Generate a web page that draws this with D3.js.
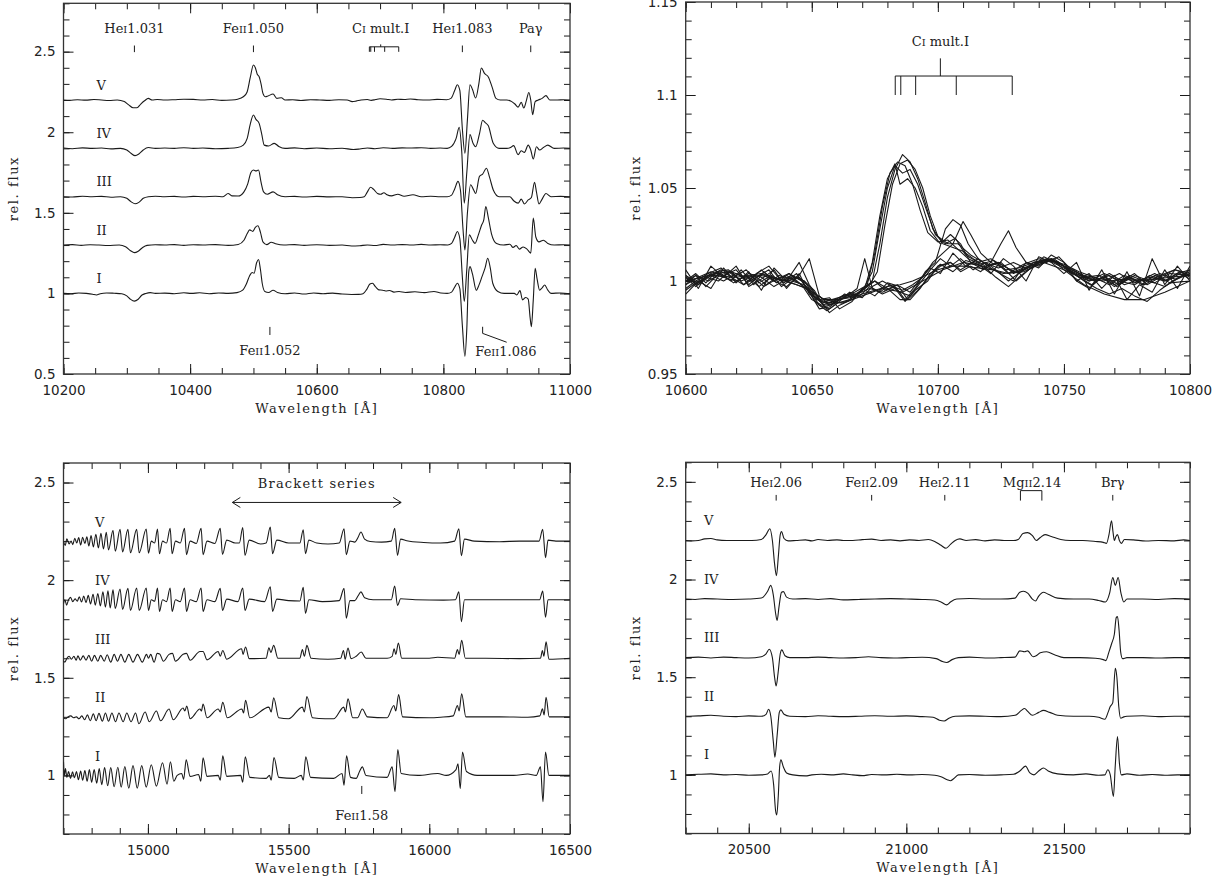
<!DOCTYPE html>
<html>
<head>
<meta charset="utf-8">
<script src="https://cdn.jsdelivr.net/npm/d3@7"></script>
<style>
  body { margin: 0; background: #fff; }
  svg { display: block; }
</style>
</head>
<body>
<svg id="fig" width="1232" height="883"></svg>
<script>
// ---- data: epochs and their display offsets
const epochs = ["I", "II", "III", "IV", "V"];
const epochOffsets = [0, 0.3, 0.6, 0.9, 1.2];

// ---- J band, 10200-11000 A  (relative flux, before offset)
const jI = [[10200,1.0],[10212,0.998],[10224,1.003],[10236,1.0],[10246,0.995],[10252,0.99],[10258,0.998],[10268,1.003],[10280,1.001],[10292,0.998],[10300,0.985],[10306,0.963],[10312,0.952],[10318,0.964],[10324,0.99],[10330,1.0],[10337,1.005],[10345,1.0],[10360,1.002],[10375,0.998],[10390,1.004],[10402,1.0],[10415,1.004],[10430,0.998],[10445,1.003],[10460,1.0],[10474,1.005],[10483,1.02],[10489,1.06],[10494,1.11],[10498,1.13],[10501,1.125],[10505,1.19],[10508,1.21],[10511,1.15],[10514,1.06],[10518,1.012],[10524,1.006],[10531,1.02],[10538,1.006],[10550,0.998],[10565,1.003],[10580,0.996],[10595,1.003],[10610,0.998],[10625,1.002],[10640,0.996],[10655,0.993],[10666,0.994],[10673,0.998],[10679,1.025],[10684,1.058],[10688,1.063],[10693,1.04],[10698,1.022],[10704,1.02],[10709,1.015],[10715,1.018],[10722,1.008],[10730,1.012],[10740,1.006],[10755,1.01],[10770,1.005],[10785,1.012],[10796,1.003],[10806,1.0],[10813,1.008],[10818,1.04],[10822,1.063],[10826,1.03],[10830,0.8],[10834,0.61],[10837,0.78],[10840,1.13],[10842,1.166],[10846,1.12],[10852,1.02],[10856,1.05],[10861,1.104],[10866,1.16],[10870,1.218],[10874,1.16],[10878,1.063],[10886,1.012],[10896,1.0],[10905,1.0],[10912,1.0],[10916,0.99],[10921,1.017],[10925,0.96],[10930,0.975],[10934,0.965],[10937,0.85],[10939,0.794],[10942,0.96],[10945,1.156],[10948,1.09],[10952,1.02],[10956,1.035],[10960,1.052],[10965,1.02],[10970,1.0],[10985,1.003],[11000,0.998]];
const jII = [[10200,1.0],[10214,1.003],[10228,0.998],[10242,1.002],[10256,1.0],[10270,0.997],[10288,1.0],[10298,0.99],[10306,0.965],[10312,0.953],[10318,0.962],[10325,0.985],[10332,0.998],[10345,1.002],[10360,1.0],[10375,1.003],[10390,0.998],[10405,1.002],[10420,1.0],[10440,1.003],[10460,0.998],[10476,1.004],[10485,1.03],[10490,1.07],[10494,1.094],[10499,1.085],[10503,1.11],[10507,1.12],[10511,1.08],[10515,1.02],[10521,1.003],[10528,1.017],[10535,1.008],[10548,1.0],[10565,1.003],[10580,0.998],[10600,1.002],[10620,0.998],[10640,1.0],[10655,0.994],[10668,0.996],[10680,1.0],[10692,0.997],[10705,1.004],[10720,1.0],[10735,1.003],[10750,1.0],[10765,1.004],[10780,1.0],[10795,1.002],[10807,1.0],[10813,1.01],[10818,1.05],[10822,1.084],[10826,1.04],[10830,0.8],[10833,0.65],[10837,0.85],[10841,1.063],[10846,1.03],[10850,1.01],[10855,1.06],[10860,1.12],[10864,1.16],[10867,1.239],[10871,1.17],[10876,1.07],[10884,1.01],[10895,1.0],[10905,1.005],[10910,0.985],[10915,0.997],[10920,0.975],[10926,0.988],[10932,0.975],[10938,0.95],[10942,1.167],[10946,1.05],[10951,1.02],[10958,1.03],[10965,1.01],[10975,1.0],[10990,1.002],[11000,1.0]];
const jIII = [[10200,1.0],[10214,0.998],[10230,1.003],[10245,1.0],[10260,1.002],[10275,0.997],[10290,1.0],[10300,0.99],[10307,0.968],[10313,0.956],[10319,0.965],[10326,0.99],[10334,1.0],[10345,1.003],[10360,1.0],[10375,1.002],[10390,0.998],[10405,1.002],[10420,1.0],[10440,1.003],[10452,1.0],[10460,1.02],[10466,1.005],[10476,1.004],[10485,1.03],[10491,1.08],[10496,1.15],[10500,1.166],[10504,1.16],[10508,1.166],[10512,1.09],[10516,1.03],[10522,1.015],[10531,1.03],[10538,1.012],[10550,1.0],[10565,1.002],[10580,0.998],[10600,1.002],[10620,0.999],[10640,1.0],[10656,0.994],[10668,0.995],[10675,1.0],[10680,1.03],[10685,1.059],[10690,1.045],[10696,1.02],[10701,1.015],[10706,1.025],[10711,1.012],[10718,1.005],[10728,1.015],[10738,1.003],[10752,1.012],[10765,1.0],[10780,1.003],[10795,1.0],[10806,1.0],[10813,1.01],[10818,1.05],[10823,1.095],[10827,1.04],[10831,0.8],[10834,0.67],[10838,0.9],[10843,1.074],[10848,1.04],[10851,1.02],[10857,1.126],[10862,1.14],[10868,1.177],[10873,1.12],[10879,1.04],[10888,1.0],[10898,1.0],[10905,1.0],[10911,0.975],[10918,0.96],[10923,0.985],[10928,0.955],[10934,0.98],[10939,0.995],[10944,1.09],[10947,1.03],[10951,0.955],[10956,0.985],[10962,1.02],[10970,1.0],[10985,1.002],[11000,1.0]];
const jIV = [[10200,1.002],[10214,0.998],[10230,1.003],[10245,1.0],[10260,1.002],[10275,0.997],[10290,1.0],[10300,0.99],[10307,0.968],[10313,0.955],[10319,0.965],[10326,0.99],[10334,1.005],[10345,1.0],[10360,1.002],[10375,1.0],[10390,1.004],[10405,1.0],[10420,1.002],[10440,0.998],[10460,1.0],[10475,1.005],[10484,1.02],[10490,1.06],[10495,1.15],[10500,1.207],[10504,1.18],[10509,1.155],[10513,1.09],[10517,1.02],[10524,1.015],[10533,1.031],[10540,1.012],[10550,1.0],[10565,1.003],[10580,0.998],[10600,1.002],[10620,0.998],[10640,1.001],[10658,0.993],[10668,0.996],[10680,1.002],[10692,0.998],[10705,1.004],[10720,1.0],[10735,1.003],[10750,1.002],[10765,1.004],[10780,1.0],[10795,1.002],[10806,1.0],[10813,1.012],[10820,1.06],[10825,1.13],[10829,0.98],[10833,0.66],[10837,0.85],[10842,1.085],[10847,1.03],[10851,1.01],[10857,1.09],[10862,1.174],[10866,1.16],[10871,1.14],[10879,1.03],[10888,1.0],[10900,1.0],[10906,1.005],[10911,1.017],[10918,0.961],[10923,0.985],[10928,0.975],[10934,1.02],[10938,0.99],[10942,0.934],[10947,1.01],[10952,0.99],[10958,1.005],[10965,1.02],[10975,1.0],[10990,1.002],[11000,1.0]];
const jV = [[10200,1.0],[10210,0.998],[10222,1.002],[10235,0.999],[10248,1.003],[10260,1.0],[10272,0.997],[10285,1.0],[10296,0.99],[10303,0.97],[10310,0.952],[10316,0.952],[10322,0.975],[10328,0.995],[10334,1.01],[10340,1.0],[10348,1.003],[10360,1.0],[10375,1.002],[10390,1.005],[10405,1.004],[10420,1.0],[10435,1.003],[10450,0.998],[10465,1.0],[10475,1.005],[10484,1.02],[10490,1.05],[10495,1.14],[10500,1.217],[10503,1.2],[10506,1.16],[10509,1.144],[10512,1.1],[10515,1.041],[10519,1.02],[10523,1.025],[10531,1.037],[10537,1.01],[10544,1.014],[10550,1.0],[10562,1.002],[10575,0.997],[10590,1.002],[10605,1.0],[10620,0.998],[10635,1.002],[10648,1.0],[10656,0.99],[10662,0.993],[10670,1.0],[10680,1.003],[10686,0.998],[10693,1.003],[10700,1.008],[10710,1.005],[10718,1.0],[10728,1.005],[10738,1.003],[10748,1.006],[10760,1.002],[10775,1.0],[10790,1.004],[10805,1.002],[10812,1.01],[10818,1.06],[10822,1.095],[10826,1.06],[10830,0.82],[10834,0.67],[10838,0.88],[10842,1.095],[10846,1.065],[10851,1.012],[10856,1.1],[10860,1.199],[10865,1.165],[10871,1.143],[10877,1.08],[10883,1.01],[10890,1.0],[10900,1.0],[10908,0.99],[10913,0.975],[10918,0.956],[10923,0.985],[10927,0.95],[10931,0.995],[10935,1.047],[10938,1.0],[10941,0.909],[10945,0.99],[10950,1.0],[10956,1.01],[10962,1.027],[10968,1.0],[10980,1.0],[10990,1.002],[11000,1.0]];
const jSpectra = [jI, jII, jIII, jIV, jV];

// ---- C I multiplet close-up, 10600-10800 A (all epochs overplotted)
const ciEmitting = [
  [[10600,1.0],[10604,1.004],[10608,0.999],[10612,1.005],[10617,1.006],[10622,1.0],[10627,1.003],[10632,0.998],[10637,1.003],[10642,1.001],[10646,0.998],[10650,0.99],[10654,0.987],[10658,0.989],[10663,0.991],[10668,0.993],[10672,0.998],[10675,1.015],[10678,1.04],[10681,1.058],[10684,1.064],[10687,1.062],[10690,1.052],[10693,1.038],[10696,1.026],[10700,1.021],[10704,1.022],[10708,1.017],[10712,1.012],[10717,1.009],[10722,1.011],[10727,1.006],[10732,1.007],[10738,1.01],[10744,1.012],[10750,1.008],[10756,1.004],[10762,1.0],[10768,1.003],[10774,0.998],[10780,1.001],[10786,0.999],[10792,1.004],[10800,1.003]],
  [[10600,0.998],[10605,1.002],[10610,1.005],[10615,1.003],[10620,1.006],[10625,0.998],[10630,1.004],[10635,1.0],[10640,1.003],[10645,0.999],[10649,0.994],[10653,0.985],[10657,0.986],[10661,0.99],[10666,0.992],[10671,0.996],[10674,1.01],[10677,1.035],[10680,1.055],[10683,1.063],[10685,1.052],[10688,1.055],[10691,1.05],[10694,1.04],[10697,1.027],[10701,1.02],[10705,1.025],[10709,1.02],[10713,1.01],[10718,1.006],[10723,1.01],[10728,1.004],[10734,1.009],[10740,1.012],[10746,1.011],[10752,1.006],[10758,1.002],[10764,1.003],[10770,0.997],[10776,1.002],[10782,0.998],[10788,1.003],[10794,1.006],[10800,1.004]],
  [[10600,1.002],[10604,0.997],[10609,1.003],[10614,1.005],[10619,1.002],[10624,1.006],[10629,0.999],[10634,1.003],[10639,0.999],[10644,1.004],[10648,0.996],[10652,0.988],[10656,0.984],[10660,0.988],[10665,0.99],[10670,0.995],[10674,1.0],[10677,1.02],[10680,1.045],[10683,1.06],[10686,1.068],[10689,1.064],[10692,1.055],[10695,1.042],[10698,1.028],[10702,1.02],[10706,1.018],[10710,1.016],[10714,1.012],[10719,1.008],[10724,1.01],[10730,1.005],[10736,1.008],[10742,1.011],[10748,1.01],[10754,1.004],[10760,1.001],[10766,1.0],[10772,1.004],[10778,0.999],[10784,1.002],[10790,1.0],[10796,1.005],[10800,1.002]],
  [[10600,0.995],[10605,1.0],[10609,1.002],[10614,1.006],[10619,1.004],[10623,0.998],[10628,1.002],[10633,1.006],[10638,0.997],[10643,1.002],[10647,1.0],[10651,0.992],[10655,0.987],[10659,0.988],[10664,0.989],[10669,0.994],[10673,0.998],[10676,1.005],[10679,1.03],[10682,1.052],[10685,1.063],[10688,1.065],[10691,1.06],[10694,1.05],[10697,1.035],[10700,1.024],[10704,1.02],[10708,1.02],[10713,1.014],[10718,1.01],[10724,1.007],[10730,1.01],[10736,1.006],[10742,1.013],[10748,1.009],[10754,1.006],[10760,1.0],[10766,1.002],[10772,0.998],[10778,1.003],[10784,1.0],[10790,0.997],[10796,1.002],[10800,1.006]],
  [[10600,1.003],[10605,0.999],[10610,1.004],[10615,1.002],[10620,1.0],[10625,1.004],[10630,1.002],[10635,0.997],[10640,1.001],[10645,1.002],[10649,0.997],[10653,0.99],[10657,0.988],[10662,0.992],[10667,0.994],[10671,0.997],[10674,1.005],[10677,1.028],[10680,1.05],[10683,1.062],[10686,1.058],[10689,1.06],[10692,1.052],[10695,1.04],[10699,1.025],[10703,1.02],[10707,1.023],[10711,1.014],[10716,1.01],[10721,1.012],[10726,1.008],[10732,1.004],[10738,1.009],[10744,1.011],[10750,1.007],[10756,1.002],[10762,1.002],[10768,0.998],[10774,1.003],[10780,1.0],[10786,1.004],[10792,0.999],[10800,1.0]]
];
const ciQuiet = [
  [[10600,1.0],[10604,1.003],[10608,0.997],[10613,1.004],[10618,1.0],[10622,1.006],[10627,0.998],[10631,1.005],[10636,0.999],[10641,1.004],[10646,1.0],[10650,0.993],[10654,0.988],[10658,0.99],[10663,0.992],[10668,0.993],[10673,0.996],[10678,0.994],[10683,0.997],[10687,0.99],[10691,0.996],[10695,1.005],[10699,1.01],[10703,1.028],[10706,1.033],[10709,1.03],[10712,1.02],[10716,1.012],[10720,1.008],[10725,1.01],[10730,1.004],[10735,1.007],[10740,1.01],[10745,1.012],[10750,1.006],[10755,1.003],[10760,1.0],[10766,1.004],[10772,1.0],[10778,0.998],[10784,1.003],[10790,1.0],[10795,1.004],[10800,1.006]],
  [[10600,0.996],[10604,1.0],[10609,1.004],[10614,1.007],[10618,1.002],[10623,0.998],[10628,1.004],[10633,1.008],[10638,1.0],[10642,1.003],[10647,1.0],[10651,0.995],[10655,0.986],[10659,0.988],[10663,0.993],[10667,0.991],[10671,0.997],[10675,1.0],[10679,0.995],[10684,0.998],[10688,0.99],[10692,0.995],[10697,1.003],[10701,1.008],[10705,1.01],[10709,1.005],[10713,1.008],[10717,1.005],[10721,1.01],[10725,1.02],[10728,1.027],[10731,1.018],[10735,1.01],[10740,1.008],[10745,1.012],[10750,1.008],[10755,1.0],[10760,0.996],[10765,1.002],[10770,0.998],[10776,1.003],[10782,1.0],[10788,1.004],[10794,1.001],[10800,1.005]],
  [[10600,1.002],[10605,0.998],[10610,1.003],[10615,1.0],[10620,1.004],[10625,1.0],[10630,1.006],[10635,1.0],[10640,0.997],[10645,1.003],[10649,1.012],[10653,0.992],[10657,0.987],[10661,0.99],[10665,0.993],[10670,0.991],[10674,0.997],[10678,1.0],[10682,0.997],[10686,0.995],[10690,0.998],[10694,1.002],[10698,1.01],[10702,1.015],[10706,1.02],[10710,1.032],[10713,1.025],[10717,1.015],[10721,1.01],[10726,1.007],[10731,1.0],[10736,1.006],[10741,1.011],[10746,1.012],[10751,1.007],[10756,1.002],[10761,0.998],[10766,1.003],[10771,0.997],[10776,1.002],[10781,0.998],[10786,1.003],[10791,1.0],[10796,1.004],[10800,1.001]],
  [[10600,0.998],[10604,1.003],[10609,1.0],[10614,1.004],[10619,0.999],[10624,1.003],[10629,0.997],[10634,1.002],[10639,1.0],[10644,0.998],[10648,0.996],[10652,0.99],[10656,0.988],[10660,0.989],[10664,0.992],[10668,0.996],[10671,1.012],[10674,0.996],[10678,0.993],[10683,0.996],[10687,0.989],[10691,0.995],[10696,1.0],[10700,1.008],[10705,1.01],[10709,1.006],[10714,1.01],[10719,1.007],[10723,1.002],[10728,0.997],[10733,1.003],[10738,1.008],[10743,1.012],[10748,1.01],[10753,1.005],[10758,1.0],[10763,0.996],[10768,0.993],[10773,0.996],[10778,0.992],[10783,0.989],[10788,0.995],[10793,1.0],[10800,1.004]],
  [[10600,1.0],[10606,1.002],[10612,1.004],[10618,1.005],[10624,1.002],[10630,1.003],[10636,1.001],[10642,1.0],[10647,0.998],[10651,0.993],[10655,0.99],[10660,0.99],[10665,0.991],[10670,0.993],[10675,0.995],[10680,0.997],[10685,0.998],[10690,1.0],[10695,1.003],[10700,1.006],[10705,1.008],[10710,1.008],[10716,1.007],[10722,1.006],[10728,1.004],[10734,1.006],[10740,1.009],[10745,1.011],[10750,1.009],[10756,1.005],[10762,1.002],[10768,1.0],[10774,1.001],[10780,1.0],[10786,1.001],[10792,1.002],[10800,1.003]],
  [[10600,1.003],[10604,0.998],[10608,1.002],[10613,1.0],[10617,1.005],[10621,1.001],[10626,1.003],[10631,0.997],[10636,1.001],[10641,1.004],[10645,0.999],[10649,0.995],[10653,0.987],[10657,0.985],[10661,0.989],[10665,0.994],[10669,0.992],[10673,0.997],[10677,0.994],[10681,0.998],[10685,0.994],[10689,0.992],[10693,0.999],[10697,1.006],[10701,1.012],[10705,1.008],[10709,1.012],[10714,1.006],[10719,1.01],[10723,1.006],[10728,1.0],[10733,1.005],[10738,1.01],[10743,1.01],[10748,1.013],[10753,1.006],[10758,1.003],[10763,1.0],[10768,1.004],[10773,1.0],[10778,1.004],[10783,0.998],[10788,1.002],[10794,1.006],[10800,1.003]],
  [[10600,0.993],[10605,1.0],[10610,0.996],[10615,1.007],[10620,0.999],[10625,1.005],[10630,0.995],[10635,1.007],[10640,1.0],[10645,1.01],[10649,0.998],[10653,0.99],[10657,0.983],[10661,0.987],[10666,0.99],[10670,0.995],[10675,1.0],[10680,0.996],[10685,0.99],[10689,0.99],[10693,0.996],[10697,1.004],[10701,1.009],[10706,1.005],[10711,1.011],[10716,1.009],[10721,1.004],[10726,1.012],[10730,1.008],[10735,1.0],[10740,1.013],[10745,1.01],[10750,1.004],[10755,1.01],[10760,0.995],[10765,1.006],[10770,0.993],[10775,1.005],[10780,0.992],[10785,1.012],[10790,0.998],[10795,1.008],[10800,1.0]],
  [[10600,1.006],[10605,0.996],[10610,1.008],[10615,1.002],[10620,1.008],[10625,0.997],[10630,1.001],[10635,1.006],[10640,0.996],[10645,1.004],[10649,0.993],[10653,0.99],[10657,0.991],[10661,0.985],[10666,0.989],[10670,0.996],[10675,0.992],[10680,0.999],[10685,0.997],[10689,0.994],[10693,1.001],[10697,1.007],[10701,1.004],[10706,1.015],[10711,1.008],[10716,1.012],[10721,1.007],[10726,1.003],[10730,1.0],[10735,1.01],[10740,1.007],[10745,1.014],[10750,1.01],[10755,1.0],[10760,1.004],[10765,0.996],[10770,1.003],[10775,0.99],[10780,0.998],[10785,0.994],[10790,1.006],[10795,0.996],[10800,1.008]],
  [[10600,1.0],[10610,1.003],[10620,1.002],[10630,1.004],[10640,1.0],[10648,0.996],[10655,0.99],[10662,0.988],[10670,0.992],[10678,0.996],[10686,0.994],[10694,1.0],[10702,1.006],[10710,1.01],[10718,1.008],[10726,1.004],[10734,1.005],[10742,1.01],[10750,1.006],[10758,0.998],[10766,0.993],[10774,0.99],[10782,0.99],[10790,0.994],[10800,1.0]]
];

// ---- H band, 14700-16500 A
const hI = [[14700,1.07],[14703,1.0],[14707,1.035],[14712,0.99],[14718,1.02],[14725,0.985],[14732,1.018],[14739,0.988],[14746,1.02],[14753,0.978],[14761,1.022],[14768,0.975],[14776,1.025],[14784,0.97],[14792,1.03],[14800,0.965],[14809,1.03],[14818,0.96],[14827,1.035],[14836,0.952],[14846,1.04],[14857,0.948],[14868,1.04],[14880,0.942],[14893,1.042],[14905,0.94],[14918,1.045],[14932,0.935],[14947,1.05],[14962,0.935],[14978,1.05],[14994,0.94],[15012,1.055],[15030,0.945],[15052,1.065],[15068,0.955],[15080,1.07],[15092,0.97],[15104,1.0],[15120,1.01],[15127,0.98],[15136,1.08],[15150,0.995],[15180,1.005],[15188,0.97],[15196,1.09],[15210,0.995],[15250,1.0],[15257,0.975],[15266,1.1],[15280,0.995],[15330,1.0],[15337,0.965],[15346,1.096],[15362,0.99],[15420,0.985],[15432,1.0],[15438,0.975],[15448,1.092],[15465,0.99],[15520,0.985],[15545,1.0],[15552,0.975],[15561,1.096],[15578,0.99],[15660,0.985],[15690,1.01],[15697,0.95],[15706,1.1],[15720,0.99],[15740,0.985],[15752,1.02],[15762,1.044],[15775,1.0],[15850,0.99],[15868,1.044],[15878,0.916],[15888,1.133],[15900,1.01],[15960,1.0],[16030,1.01],[16060,1.0],[16095,1.03],[16102,1.06],[16110,0.932],[16118,1.12],[16132,1.02],[16170,1.0],[16300,1.0],[16350,1.007],[16380,1.0],[16395,1.044],[16404,0.865],[16413,1.12],[16425,1.0],[16500,1.0]];
const hII = [[14700,0.995],[14708,0.99],[14716,1.0],[14726,1.005],[14736,0.995],[14746,1.0],[14755,0.99],[14765,1.005],[14775,0.985],[14785,1.01],[14795,0.98],[14806,1.015],[14816,0.98],[14826,1.018],[14838,0.978],[14849,1.02],[14860,0.978],[14872,1.02],[14885,0.975],[14897,1.02],[14912,0.975],[14925,1.02],[14940,0.975],[14956,1.02],[14968,0.965],[14990,1.025],[15005,0.975],[15030,1.03],[15045,0.98],[15075,1.04],[15090,0.985],[15125,1.045],[15131,1.03],[15138,1.055],[15150,0.99],[15185,1.04],[15190,1.03],[15196,1.065],[15210,0.995],[15250,1.04],[15257,1.025],[15266,1.075],[15282,0.995],[15334,1.04],[15340,1.02],[15347,1.085],[15362,0.995],[15430,1.05],[15438,1.025],[15447,1.098],[15465,0.995],[15500,0.99],[15549,1.05],[15556,1.025],[15565,1.104],[15585,0.995],[15630,0.99],[15660,0.99],[15696,1.05],[15702,1.025],[15711,1.092],[15728,0.995],[15745,0.995],[15762,1.04],[15780,1.0],[15850,0.995],[15874,1.058],[15881,1.03],[15891,1.114],[15905,1.0],[16000,0.995],[16040,0.998],[16085,1.005],[16100,1.058],[16106,1.03],[16115,1.118],[16130,1.0],[16250,1.0],[16350,0.998],[16393,1.005],[16402,1.041],[16408,1.01],[16415,1.1],[16426,1.0],[16500,1.0]];
const hIII = [[14700,0.985],[14705,0.98],[14712,1.0],[14720,1.01],[14728,0.995],[14737,1.01],[14745,0.99],[14751,1.012],[14760,0.99],[14770,1.012],[14780,0.99],[14790,1.015],[14800,0.985],[14810,1.015],[14822,0.985],[14832,1.015],[14845,0.985],[14855,1.018],[14868,0.98],[14880,1.02],[14892,0.985],[14904,1.02],[14918,0.98],[14932,1.02],[14947,0.98],[14963,1.02],[14980,0.98],[14995,1.02],[15002,1.0],[15010,1.02],[15022,0.98],[15033,1.025],[15042,1.022],[15055,0.985],[15075,1.02],[15087,1.025],[15098,0.985],[15125,1.02],[15137,1.025],[15150,0.99],[15185,1.035],[15196,1.035],[15210,0.992],[15250,1.035],[15257,1.01],[15266,1.04],[15280,0.995],[15333,1.049],[15338,1.02],[15347,1.058],[15360,0.998],[15420,1.0],[15430,1.053],[15437,1.03],[15447,1.066],[15462,1.0],[15540,1.0],[15549,1.044],[15556,1.01],[15565,1.066],[15580,1.0],[15640,0.995],[15685,1.0],[15695,1.04],[15701,0.995],[15711,1.052],[15722,0.998],[15740,1.01],[15758,1.032],[15775,1.0],[15850,1.0],[15868,1.01],[15875,1.049],[15881,1.02],[15890,1.078],[15902,1.0],[16000,1.0],[16030,1.005],[16090,1.0],[16100,1.044],[16106,1.02],[16115,1.092],[16128,1.0],[16200,1.0],[16320,0.998],[16395,1.0],[16402,1.04],[16407,1.01],[16415,1.084],[16425,0.995],[16500,1.0]];
const hIV = [[14700,0.98],[14705,1.0],[14711,0.972],[14718,1.0],[14725,1.012],[14733,0.99],[14741,1.004],[14749,0.992],[14756,1.015],[14764,0.988],[14772,1.018],[14780,0.985],[14788,1.022],[14796,0.978],[14805,1.028],[14813,0.972],[14822,1.032],[14831,0.968],[14840,1.04],[14849,0.962],[14858,1.045],[14866,0.958],[14876,1.05],[14884,0.955],[14901,1.055],[14910,0.95],[14929,1.058],[14938,0.945],[14960,1.06],[14969,0.945],[14994,1.06],[15002,0.945],[15012,1.0],[15024,0.992],[15034,1.06],[15041,0.94],[15052,1.0],[15066,0.99],[15079,1.06],[15086,0.94],[15098,1.0],[15115,0.99],[15130,1.06],[15137,0.94],[15150,1.0],[15172,0.99],[15189,1.06],[15196,0.94],[15210,1.0],[15238,0.99],[15257,1.058],[15265,0.945],[15280,1.003],[15320,0.99],[15337,1.06],[15345,0.945],[15360,1.003],[15415,0.99],[15435,1.066],[15443,0.94],[15458,1.003],[15500,0.995],[15540,0.993],[15552,1.063],[15560,0.93],[15572,1.0],[15620,0.99],[15680,0.995],[15697,1.058],[15705,0.905],[15718,0.995],[15735,0.995],[15747,1.02],[15757,1.04],[15770,1.01],[15800,1.0],[15865,1.0],[15877,1.07],[15887,0.97],[15898,1.005],[15950,1.0],[16050,0.998],[16093,1.0],[16105,1.041],[16114,0.887],[16125,1.0],[16200,1.0],[16300,1.0],[16392,1.0],[16403,1.044],[16413,0.91],[16422,1.0],[16500,1.0]];
const hV = [[14700,1.0],[14706,0.978],[14712,1.012],[14720,0.985],[14727,1.0],[14733,0.982],[14740,1.015],[14747,0.99],[14754,1.018],[14761,0.98],[14768,1.02],[14776,0.988],[14783,1.022],[14790,0.975],[14798,1.028],[14806,0.97],[14815,1.035],[14824,0.965],[14833,1.04],[14842,0.96],[14852,1.045],[14860,0.955],[14876,1.055],[14884,0.948],[14901,1.06],[14910,0.945],[14929,1.06],[14938,0.94],[14960,1.06],[14969,0.94],[14994,1.062],[15002,0.938],[15012,1.0],[15024,0.99],[15034,1.062],[15041,0.935],[15052,1.0],[15066,0.99],[15079,1.065],[15086,0.935],[15098,1.0],[15115,0.99],[15130,1.065],[15137,0.93],[15150,1.0],[15172,0.988],[15189,1.065],[15196,0.93],[15210,1.0],[15238,0.988],[15257,1.065],[15265,0.932],[15280,1.005],[15310,0.99],[15325,0.99],[15337,1.07],[15345,0.927],[15360,1.005],[15400,0.985],[15420,0.99],[15435,1.072],[15443,0.935],[15458,1.005],[15500,0.99],[15540,0.99],[15552,1.058],[15560,0.935],[15572,1.005],[15600,0.99],[15640,0.985],[15680,0.99],[15697,1.063],[15705,0.93],[15718,1.0],[15735,0.995],[15747,1.02],[15757,1.047],[15770,1.01],[15790,0.998],[15830,0.995],[15865,1.0],[15877,1.065],[15887,0.927],[15898,1.01],[15920,1.002],[15980,0.993],[16040,0.99],[16090,1.0],[16105,1.063],[16114,0.925],[16125,1.01],[16160,1.0],[16250,0.997],[16320,1.0],[16390,1.0],[16403,1.06],[16413,0.915],[16422,1.005],[16450,1.0],[16500,1.0]];
const hSpectra = [hI, hII, hIII, hIV, hV];

// ---- K band, 20300-21900 A
const kI = [[20300,1.0],[20340,1.003],[20380,1.005],[20420,1.0],[20460,1.002],[20500,0.998],[20540,1.0],[20560,1.005],[20571,1.02],[20579,0.95],[20585,0.82],[20589,0.795],[20594,0.9],[20598,1.04],[20602,1.077],[20610,1.04],[20620,1.01],[20640,1.0],[20680,0.995],[20700,1.0],[20730,1.003],[20770,1.0],[20800,1.005],[20830,1.0],[20860,0.996],[20890,1.002],[20930,1.0],[20970,1.003],[21010,1.0],[21050,1.002],[21090,0.998],[21110,0.99],[21130,0.975],[21140,0.97],[21150,0.98],[21165,1.0],[21200,1.002],[21250,0.998],[21300,1.0],[21340,1.003],[21360,1.02],[21378,1.045],[21392,1.01],[21405,1.0],[21420,1.02],[21435,1.035],[21450,1.02],[21480,1.005],[21530,1.0],[21570,1.005],[21610,0.998],[21630,1.0],[21639,1.026],[21647,1.0],[21657,0.89],[21663,1.05],[21670,1.196],[21676,1.06],[21682,1.0],[21700,1.005],[21740,0.998],[21780,1.002],[21820,0.998],[21860,1.0],[21900,1.0]];
const kII = [[20300,1.0],[20340,1.002],[20380,1.005],[20420,1.0],[20460,0.998],[20500,1.002],[20540,1.0],[20555,1.01],[20563,1.036],[20570,1.0],[20578,0.87],[20583,0.79],[20590,0.9],[20597,1.02],[20602,1.033],[20612,1.01],[20630,1.0],[20680,0.998],[20720,1.003],[20760,1.0],[20800,0.998],[20850,1.0],[20900,1.003],[20950,1.0],[21000,1.002],[21050,0.998],[21085,0.995],[21105,0.98],[21120,0.976],[21135,0.99],[21155,1.0],[21200,1.002],[21250,1.0],[21300,0.998],[21345,1.005],[21365,1.03],[21375,1.04],[21385,1.025],[21400,1.005],[21420,1.02],[21435,1.03],[21455,1.02],[21480,1.005],[21530,1.0],[21580,1.0],[21610,0.995],[21630,0.985],[21640,1.02],[21647,1.05],[21655,1.07],[21663,1.245],[21668,1.2],[21674,1.05],[21680,0.99],[21690,0.997],[21700,1.0],[21750,1.003],[21800,0.998],[21850,1.0],[21900,1.0]];
const kIII = [[20300,1.0],[20340,1.003],[20380,0.998],[20420,1.003],[20460,1.0],[20500,0.998],[20540,1.005],[20555,1.02],[20565,1.043],[20575,1.0],[20582,0.9],[20587,0.855],[20593,0.92],[20600,1.02],[20605,1.04],[20615,1.01],[20630,1.0],[20680,1.0],[20720,1.003],[20760,1.0],[20800,0.998],[20840,1.0],[20880,1.005],[20920,1.0],[20960,0.998],[21000,1.0],[21050,1.002],[21095,0.995],[21115,0.98],[21128,0.975],[21145,0.99],[21165,1.0],[21200,1.003],[21250,0.998],[21300,1.0],[21345,1.003],[21360,1.035],[21375,1.03],[21385,1.035],[21402,1.005],[21412,1.01],[21425,1.025],[21445,1.03],[21470,1.015],[21500,1.0],[21550,1.0],[21600,0.997],[21625,0.99],[21633,0.985],[21643,1.03],[21652,1.075],[21660,1.12],[21666,1.205],[21670,1.21],[21675,1.14],[21680,1.03],[21686,0.995],[21700,1.0],[21750,1.0],[21800,0.998],[21850,1.0],[21900,1.0]];
const kIV = [[20300,1.0],[20330,0.998],[20360,1.002],[20400,1.0],[20450,0.998],[20500,1.0],[20540,1.005],[20560,1.04],[20570,1.07],[20578,1.02],[20585,0.93],[20590,0.89],[20596,0.96],[20604,1.035],[20610,1.038],[20620,1.01],[20640,1.0],[20680,1.002],[20720,0.998],[20760,1.002],[20800,0.996],[20850,0.998],[20900,1.0],[20950,1.002],[21000,1.0],[21050,0.998],[21090,0.995],[21110,0.985],[21128,0.97],[21140,0.985],[21160,1.0],[21200,1.003],[21250,1.0],[21300,1.0],[21345,1.005],[21360,1.035],[21372,1.04],[21385,1.03],[21400,1.0],[21410,0.99],[21420,1.015],[21435,1.035],[21450,1.025],[21480,1.005],[21530,1.0],[21580,1.0],[21610,0.993],[21632,0.985],[21645,1.03],[21655,1.11],[21663,1.07],[21672,1.11],[21681,1.03],[21690,0.985],[21700,1.0],[21750,1.0],[21800,0.998],[21850,1.002],[21900,1.0]];
const kV = [[20300,1.0],[20320,0.998],[20340,1.0],[20360,1.008],[20380,1.01],[20400,1.003],[20430,1.0],[20470,1.0],[20510,1.0],[20540,1.005],[20555,1.03],[20567,1.06],[20575,1.0],[20582,0.88],[20588,0.82],[20594,0.92],[20600,1.03],[20604,1.045],[20612,1.01],[20625,0.998],[20650,1.0],[20680,1.003],[20700,0.998],[20720,1.005],[20750,1.0],[20780,1.003],[20800,1.0],[20830,1.0],[20860,1.004],[20890,1.007],[20920,1.0],[20950,1.003],[20980,0.998],[21010,1.003],[21040,1.0],[21070,1.005],[21090,0.995],[21110,0.975],[21126,0.96],[21140,0.98],[21155,1.0],[21170,1.008],[21190,1.0],[21220,1.004],[21250,0.998],[21280,1.003],[21310,1.0],[21340,1.0],[21355,1.005],[21370,1.035],[21385,1.04],[21400,1.025],[21412,1.0],[21425,1.015],[21440,1.03],[21460,1.02],[21490,1.005],[21520,1.0],[21560,1.0],[21600,0.995],[21625,0.99],[21635,0.985],[21643,1.03],[21651,1.1],[21656,1.04],[21660,1.0],[21665,1.02],[21670,1.03],[21676,1.0],[21682,0.985],[21692,1.005],[21720,1.003],[21760,0.997],[21800,1.0],[21850,0.998],[21880,1.003],[21900,1.0]];
const kSpectra = [kI, kII, kIII, kIV, kV];

// ---- line identifications (wavelengths in A)
const jLines = [{t:["He","I","1.031"], w:10312}, {t:["Fe","II","1.050"], w:10500}, {t:["He","I","1.083"], w:10830}, {t:["Pa","","γ"], w:10938}];
const ciMultiplet = [10683.1, 10685.3, 10691.2, 10707.3, 10729.5];
const kLines = [{t:["He","I","2.06"], w:20587}, {t:["Fe","II","2.09"], w:20890}, {t:["He","I","2.11"], w:21122}, {t:["Br","","γ"], w:21655}];
const mgDoublet = [21362, 21430];

// ---- drawing
const svg = d3.select("#fig");
const ink = "#1a1a1a";

function makePanel(cfg) {
  const x = d3.scaleLinear().domain(cfg.xd).range([cfg.x0, cfg.x1]);
  const y = d3.scaleLinear().domain(cfg.yd).range([cfg.y1, cfg.y0]);
  const g = svg.append("g");
  const id = "clip" + cfg.name;
  svg.append("clipPath").attr("id", id).append("rect")
    .attr("x", cfg.x0).attr("y", cfg.y0).attr("width", cfg.x1 - cfg.x0).attr("height", cfg.y1 - cfg.y0);

  const fmt = d => String(+d.toFixed(2));
  const axes = [
    [d3.axisBottom, cfg.y1, x, true], [d3.axisTop, cfg.y0, x, false],
    [d3.axisLeft, cfg.x0, y, true], [d3.axisRight, cfg.x1, y, false]
  ];
  axes.forEach(([ax, pos, sc, labelled]) => {
    const horiz = sc === x;
    const minor = horiz ? cfg.xMinor : cfg.yMinor, major = horiz ? cfg.xMajor : cfg.yMajor;
    const tr = horiz ? `translate(0,${pos})` : `translate(${pos},0)`;
    g.append("g").attr("transform", tr)
      .call(ax(sc).tickValues(d3.range(sc.domain()[0], sc.domain()[1] + minor / 2, minor)).tickSize(-6).tickFormat(""))
      .call(s => s.select(".domain").remove());
    const gm = g.append("g").attr("transform", tr)
      .call(ax(sc).tickValues(major).tickSize(-10).tickPadding(horiz ? 11 : 8).tickFormat(labelled ? fmt : ""))
      .call(s => s.select(".domain").remove());
    gm.selectAll("text").attr("font-family", "DejaVu Sans").attr("font-size", 13.5).attr("fill", "#222");
  });
  g.selectAll(".tick line").attr("stroke", ink).attr("stroke-width", 1);
  g.append("rect").attr("x", cfg.x0).attr("y", cfg.y0).attr("width", cfg.x1 - cfg.x0).attr("height", cfg.y1 - cfg.y0)
    .attr("fill", "none").attr("stroke", "#333").attr("stroke-width", 1.3);

  const mid = (cfg.x0 + cfg.x1) / 2;
  g.append("text").attr("x", mid).attr("y", cfg.y1 + 38.5).attr("text-anchor", "middle")
    .attr("font-family", "DejaVu Serif").attr("font-size", 13).attr("letter-spacing", 1.6).attr("fill", "#222")
    .text("Wavelength [Å]");
  g.append("text").attr("transform", `translate(${cfg.x0 - 45.5},${(cfg.y0 + cfg.y1) / 2}) rotate(-90)`)
    .attr("text-anchor", "middle").attr("font-family", "DejaVu Serif").attr("font-size", 13)
    .attr("letter-spacing", 1.6).attr("fill", "#222").text("rel. flux");

  const plot = g.append("g").attr("clip-path", `url(#${id})`);
  return {x, y, g, plot};
}

function drawSpectrum(p, data, offset, curve) {
  const line = d3.line().x(d => p.x(d[0])).y(d => p.y(d[1] + offset)).curve(curve);
  p.plot.append("path").datum(data).attr("d", line)
    .attr("fill", "none").attr("stroke", ink).attr("stroke-width", 1.1).attr("stroke-linejoin", "round");
}

function ionLabel(g, px, py, parts, anchor) {
  const t = g.append("text").attr("x", px).attr("y", py).attr("text-anchor", anchor || "middle")
    .attr("font-family", "DejaVu Serif").attr("font-size", 13).attr("fill", "#222");
  t.append("tspan").text(parts[0]);
  if (parts[1]) t.append("tspan").attr("font-size", 10).text(parts[1]);
  t.append("tspan").text(parts[2]);
  return t;
}

function seg(g, xa, ya, xb, yb) {
  g.append("line").attr("x1", xa).attr("y1", ya).attr("x2", xb).attr("y2", yb)
    .attr("stroke", ink).attr("stroke-width", 1);
}

function epochLabels(p, xw, lift) {
  epochs.forEach((e, i) => {
    p.g.append("text").attr("x", p.x(xw)).attr("y", p.y(1 + epochOffsets[i] + lift) + 5)
      .attr("font-family", "DejaVu Serif").attr("font-size", 13).attr("fill", "#222").text(e);
  });
}

// Panel 1: J band
const p1 = makePanel({name: "J", x0: 63.5, x1: 570, y0: 3.3, y1: 374, xd: [10200, 11000], yd: [0.5, 2.8],
  xMinor: 50, xMajor: [10200, 10400, 10600, 10800, 11000], yMinor: 0.1, yMajor: [0.5, 1, 1.5, 2, 2.5]});
jSpectra.forEach((s, i) => drawSpectrum(p1, s, epochOffsets[i], d3.curveMonotoneX));
epochLabels(p1, 10252, 0.095);
jLines.forEach(l => {
  ionLabel(p1.g, p1.x(l.w), p1.y(2.645) + 5, l.t);
  seg(p1.g, p1.x(l.w), p1.y(2.538), p1.x(l.w), p1.y(2.497));
});
ionLabel(p1.g, p1.x(10701), p1.y(2.645) + 5, ["C", "I", "  mult.I"]);
seg(p1.g, p1.x(ciMultiplet[0]), p1.y(2.53), p1.x(ciMultiplet[4]), p1.y(2.53));
seg(p1.g, p1.x(10701), p1.y(2.545), p1.x(10701), p1.y(2.53));
ciMultiplet.forEach(w => seg(p1.g, p1.x(w), p1.y(2.53), p1.x(w), p1.y(2.499)));
ionLabel(p1.g, p1.x(10526), p1.y(0.649) + 5, ["Fe", "II", "1.052"]);
seg(p1.g, p1.x(10526), p1.y(0.792), p1.x(10526), p1.y(0.742));
ionLabel(p1.g, p1.x(10850.5), p1.y(0.643) + 5, ["Fe", "II", "1.086"], "start");
seg(p1.g, p1.x(10862), p1.y(0.793), p1.x(10862), p1.y(0.752));
seg(p1.g, p1.x(10862), p1.y(0.752), p1.x(10900), p1.y(0.697));

// Panel 2: C I close-up
const p2 = makePanel({name: "C", x0: 685.7, x1: 1190, y0: 2, y1: 374, xd: [10600, 10800], yd: [0.95, 1.15],
  xMinor: 10, xMajor: [10600, 10650, 10700, 10750, 10800], yMinor: 0.01, yMajor: [0.95, 1, 1.05, 1.1, 1.15]});
ciQuiet.forEach(s => drawSpectrum(p2, s, 0, d3.curveLinear));
ciEmitting.forEach(s => drawSpectrum(p2, s, 0, d3.curveLinear));
ionLabel(p2.g, p2.x(10701), p2.y(1.1292) + 5, ["C", "I", "  mult.I"]);
seg(p2.g, p2.x(10701), p2.y(1.1197), p2.x(10701), p2.y(1.1102));
seg(p2.g, p2.x(ciMultiplet[0]), p2.y(1.1102), p2.x(ciMultiplet[4]), p2.y(1.1102));
ciMultiplet.forEach(w => seg(p2.g, p2.x(w), p2.y(1.1102), p2.x(w), p2.y(1.1)));

// Panel 3: H band
const p3 = makePanel({name: "H", x0: 63.5, x1: 570, y0: 463, y1: 834, xd: [14700, 16500], yd: [0.7, 2.6],
  xMinor: 100, xMajor: [15000, 15500, 16000, 16500], yMinor: 0.1, yMajor: [1, 1.5, 2, 2.5]});
hSpectra.forEach((s, i) => drawSpectrum(p3, s, epochOffsets[i], d3.curveMonotoneX));
epochLabels(p3, 14812, 0.1);
p3.g.append("text").attr("x", p3.x(15600)).attr("y", p3.y(2.496) + 5).attr("text-anchor", "middle")
  .attr("font-family", "DejaVu Serif").attr("font-size", 13).attr("letter-spacing", 1.2).attr("fill", "#222")
  .text("Brackett series");
{
  const ya = p3.y(2.398), xa = p3.x(15300), xb = p3.x(15900);
  seg(p3.g, xa, ya, xb, ya);
  seg(p3.g, xa, ya, xa + 8, ya - 5); seg(p3.g, xa, ya, xa + 8, ya + 5);
  seg(p3.g, xb, ya, xb - 8, ya - 5); seg(p3.g, xb, ya, xb - 8, ya + 5);
}
ionLabel(p3.g, p3.x(15760), p3.y(0.797) + 5, ["Fe", "II", "1.58"]);
seg(p3.g, p3.x(15760), p3.y(0.946), p3.x(15760), p3.y(0.905));

// Panel 4: K band
const p4 = makePanel({name: "K", x0: 685.7, x1: 1190, y0: 462.3, y1: 833.5, xd: [20300, 21900], yd: [0.7, 2.6],
  xMinor: 100, xMajor: [20500, 21000, 21500], yMinor: 0.1, yMajor: [1, 1.5, 2, 2.5]});
kSpectra.forEach((s, i) => drawSpectrum(p4, s, epochOffsets[i], d3.curveMonotoneX));
epochLabels(p4, 20358, 0.105);
kLines.forEach(l => {
  ionLabel(p4.g, p4.x(l.w), p4.y(2.5) + 5, l.t);
  seg(p4.g, p4.x(l.w), p4.y(2.433), p4.x(l.w), p4.y(2.404));
});
ionLabel(p4.g, p4.x(21399), p4.y(2.5) + 5, ["Mg", "II", "2.14"]);
seg(p4.g, p4.x(mgDoublet[0]), p4.y(2.455), p4.x(mgDoublet[1]), p4.y(2.455));
mgDoublet.forEach(w => seg(p4.g, p4.x(w), p4.y(2.455), p4.x(w), p4.y(2.404)));
</script>
</body>
</html>
